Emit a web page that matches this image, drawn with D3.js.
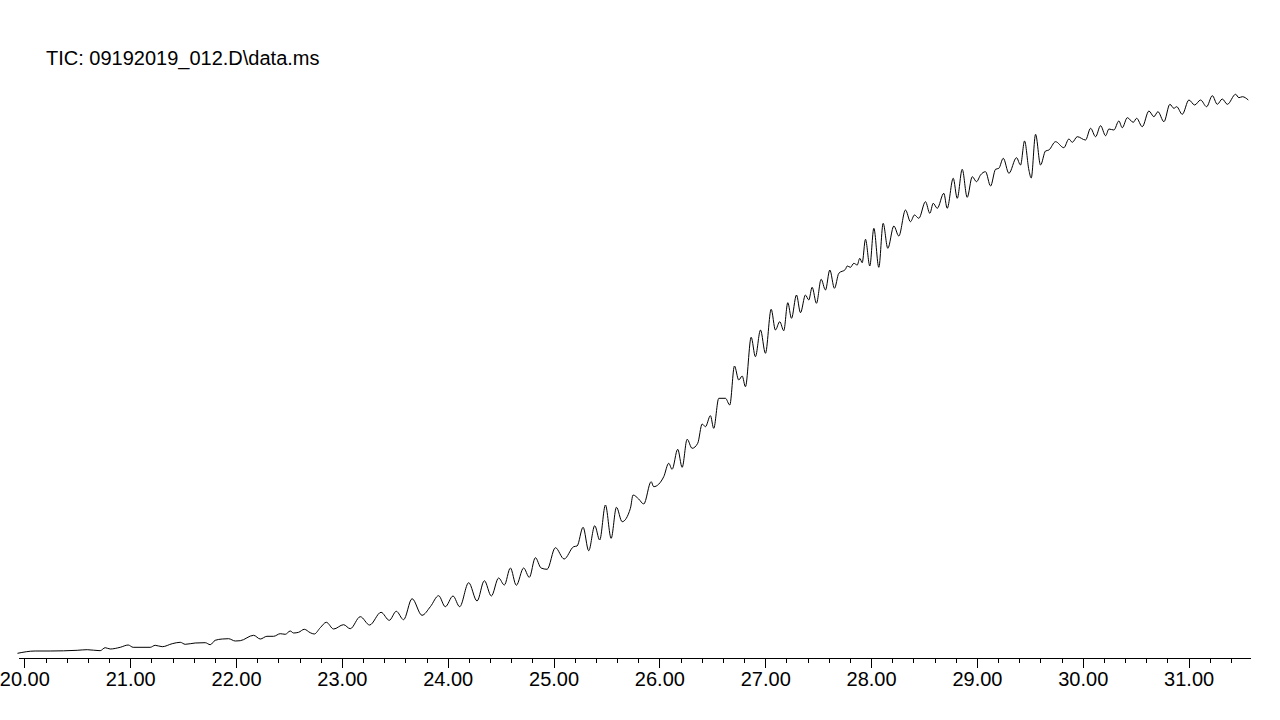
<!DOCTYPE html>
<html>
<head>
<meta charset="utf-8">
<script src="https://cdn.jsdelivr.net/npm/d3@7"></script>
<style>
    body { margin: 0; background: #fff; }
    svg { display: block; }
</style>
</head>
<body>
<svg width="1280" height="720"></svg>
<script>
'use strict';

var TITLE = 'TIC: 09192019_012.D\\data.ms';

//retention time, min
var times = [
    19.935, 20.102, 20.244, 20.499, 20.594, 20.716, 20.764, 20.811, 20.906, 20.981,
    21.028, 21.189, 21.236, 21.303, 21.397, 21.473, 21.520, 21.614, 21.709, 21.756,
    21.803, 21.870,
    21.929, 21.993, 22.040, 22.166, 22.229, 22.292, 22.355, 22.418, 22.465, 22.512,
    22.544, 22.591, 22.645, 22.701, 22.739, 22.796, 22.853, 22.922, 23.016, 23.079,
    23.174, 23.262, 23.370, 23.448, 23.514, 23.583, 23.663, 23.757, 23.836,
    23.914, 23.977, 24.050, 24.113, 24.198, 24.277, 24.346, 24.412, 24.481, 24.535,
    24.592, 24.648, 24.717, 24.771, 24.828, 24.882, 24.939, 25.017, 25.100,
    25.190, 25.222, 25.279, 25.332, 25.389, 25.436, 25.490, 25.544, 25.594, 25.648,
    25.726, 25.751, 25.804, 25.852, 25.922, 25.946, 26.041, 26.088, 26.120, 26.173,
    26.215, 26.262,
    26.309, 26.362, 26.404, 26.435, 26.482, 26.513, 26.561, 26.624, 26.665, 26.709,
    26.750, 26.782, 26.813, 26.867, 26.907, 26.955, 27.002, 27.056, 27.096, 27.137,
    27.175, 27.213,
    27.248, 27.295, 27.333, 27.380, 27.411, 27.443, 27.484, 27.528, 27.569, 27.610,
    27.654, 27.695, 27.758, 27.774, 27.805, 27.837, 27.869, 27.893, 27.916, 27.947,
    27.988, 28.026, 28.073, 28.114, 28.158, 28.215, 28.262,
    28.325, 28.372, 28.410, 28.451, 28.514, 28.555, 28.587, 28.625, 28.687, 28.719,
    28.776, 28.814, 28.861, 28.908, 28.956, 28.996, 29.034, 29.081, 29.129, 29.176,
    29.207, 29.249, 29.302,
    29.374, 29.412, 29.450, 29.491, 29.513, 29.554, 29.601, 29.648, 29.680, 29.743,
    29.821, 29.869, 29.901, 29.948, 30.026, 30.074, 30.121, 30.168, 30.216, 30.247,
    30.294, 30.341, 30.373, 30.421,
    30.477, 30.509, 30.562, 30.625, 30.672, 30.710, 30.767, 30.823, 30.861, 30.887,
    30.940, 31.003, 31.057, 31.113, 31.170, 31.224, 31.271, 31.318, 31.366, 31.444,
    31.475, 31.508, 31.564
];

//total ion current, x10^4 counts
var abundance = [
    4.7, 7.0, 7.0, 7.7, 8.3, 7.3, 10.3, 9.0, 10.7, 13.0,
    10.7, 10.7, 12.7, 11.3, 14.3, 15.7, 13.7, 15.0, 15.3, 13.3,
    17.7, 19.0,
    19.3, 17.0, 17.3, 22.7, 19.0, 21.7, 21.7, 24.3, 23.7, 27.0,
    25.0, 25.7, 28.7, 25.3, 24.0, 30.3, 35.7, 29.0, 33.3, 29.3,
    41.3, 33.0, 45.7, 37.7, 46.7, 38.3, 59.3, 42.7, 51.3,
    62.3, 51.3, 62.0, 51.3, 75.3, 57.0, 77.3, 62.0, 80.0, 73.0,
    90.0, 72.7, 90.0, 80.7, 100.3, 90.0, 88.7, 110.3, 99.0,
    111.3, 112.0, 130.7, 107.3, 132.3, 118.0, 153.0, 119.7, 150.7, 136.3,
    149.7, 163.0, 159.0, 154.0, 176.3, 171.3, 181.3, 194.7, 188.7, 208.7,
    190.7, 218.7,
    209.7, 214.7, 234.0, 231.3, 242.3, 229.7, 259.7, 259.7, 253.0, 292.0,
    278.0, 282.0, 271.3, 320.7, 301.3, 328.0, 304.7, 348.7, 328.0, 336.3,
    327.3, 355.3,
    339.7, 363.0, 345.3, 363.0, 358.0, 370.7, 354.7, 378.7, 368.0, 388.0,
    369.7, 384.7, 388.7, 392.0, 390.7, 394.7, 393.0, 399.7, 395.3, 418.7,
    392.0, 429.7, 390.7, 434.7, 409.7, 432.0, 422.0,
    448.0, 436.3, 443.0, 439.7, 456.3, 444.7, 454.7, 449.7, 464.7, 449.7,
    479.7, 459.7, 488.7, 460.7, 481.3, 476.3, 483.0, 486.3, 472.0, 488.7,
    489.7, 499.7, 484.7,
    500.3, 493.0, 517.0, 488.0, 480.0, 523.7, 493.0, 507.0, 508.0, 516.3,
    510.3, 519.0, 515.7, 521.3, 518.0, 529.7, 521.3, 532.3, 522.3, 529.0,
    528.0, 537.0, 530.3, 540.3,
    535.7, 539.7, 531.3, 547.0, 541.3, 546.3, 536.3, 553.7, 549.7, 551.3,
    543.7, 558.0, 553.0, 558.0, 551.3, 562.3, 553.7, 559.0, 553.7, 563.7,
    560.3, 561.3, 558.0
];

var timeRange = [19.94, 31.58];
var majorTicks = [20, 21, 22, 23, 24, 25, 26, 27, 28, 29, 30, 31];
var minorTicks = d3.range(200, 316, 2).map(function(d) { return d / 10; });

var FONT = '"Liberation Sans", Arial, sans-serif';
var AXIS_Y = 658;

var svg = d3.select('svg');

var x = d3.scaleLinear().domain(timeRange).range([18, 1250]);
var y = d3.scaleLinear().domain([0, 600]).range([AXIS_Y, 58]);

var data = times.map(function(t, i) {
    return { time: t, value: abundance[i] };
});

var line = d3.line()
    .x(function(d) { return x(d.time); })
    .y(function(d) { return y(d.value); })
    .curve(d3.curveMonotoneX);

//title
svg.append('text')
    .attr('x', 46)
    .attr('y', 65)
    .attr('font-family', FONT)
    .attr('font-size', 20)
    .attr('fill', '#000')
    .text(TITLE);

//minor ticks
var axisMinor = d3.axisBottom(x)
    .tickValues(minorTicks)
    .tickSize(5)
    .tickSizeOuter(0)
    .tickFormat('');

svg.append('g')
    .attr('class', 'axis-minor')
    .attr('transform', 'translate(0,' + AXIS_Y + ')')
    .call(axisMinor);

//major ticks with labels
var axisMajor = d3.axisBottom(x)
    .tickValues(majorTicks)
    .tickSize(10)
    .tickSizeOuter(0)
    .tickPadding(4)
    .tickFormat(d3.format('.2f'));

var gx = svg.append('g')
    .attr('class', 'axis-major')
    .attr('transform', 'translate(0,' + AXIS_Y + ')')
    .call(axisMajor);

svg.selectAll('.axis-minor path, .axis-major path, .axis-minor line, .axis-major line')
    .attr('stroke', '#000')
    .attr('stroke-width', 1)
    .attr('shape-rendering', 'crispEdges');

gx.selectAll('text')
    .attr('font-family', FONT)
    .attr('font-size', 20)
    .attr('fill', '#000');

//chromatogram trace
svg.append('path')
    .datum(data)
    .attr('fill', 'none')
    .attr('stroke', '#000')
    .attr('stroke-width', 1)
    .attr('stroke-linejoin', 'round')
    .attr('d', line);
</script>
</body>
</html>
